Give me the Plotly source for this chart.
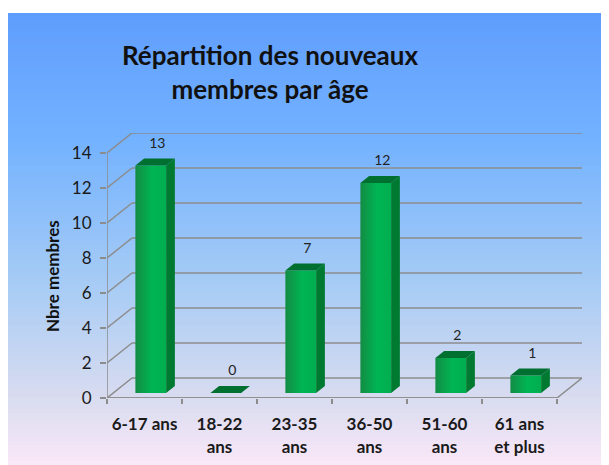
import plotly.graph_objects as go

# data
categories = ["6-17 ans", "18-22<br>ans", "23-35<br>ans", "36-50<br>ans", "51-60<br>ans", "61 ans<br>et plus"]
counts = [13, 0, 7, 12, 2, 1]
y_ticks = [0, 2, 4, 6, 8, 10, 12, 14]
title_text = "Répartition des nouveaux<br>membres par âge"
y_title = "Nbre membres"

OFF = 8  # the page body margin
W, H = 609 - OFF, 465 - OFF
PL, PR, PT, PB = 107 - OFF, 582 - OFF, 133 - OFF, 398 - OFF  # plot area in px
DX = 25 / 75      # depth of the 3d box, in x units
DY = 20 / 17.5    # depth of the 3d box, in y units
BAR_W = 0.41
BAR_D0, BAR_D1 = 0.25, 0.6   # bar sits between these depth fractions
GRID = "#8c8c8c"
FONT = "Lato"

n = len(categories)
x_max = n + DX
y_max = max(y_ticks) + DY


def paper_x(px):
    # px given in page coordinates
    return (px - OFF - PL) / (PR - PL)


def paper_y(py):
    return (PB - (py - OFF)) / (PB - PT)


def lerp_color(py):
    stops = [(13, (95, 157, 253)), (140, (115, 178, 255)), (280, (165, 203, 245)),
             (400, (218, 220, 240)), (465, (250, 232, 248))]
    for (y0, c0), (y1, c1) in zip(stops, stops[1:]):
        if y0 <= py <= y1:
            t = (py - y0) / (y1 - y0)
            return "rgb(%d,%d,%d)" % tuple(round(a + (b - a) * t) for a, b in zip(c0, c1))
    return "rgb(%d,%d,%d)" % stops[-1][1]


fig = go.Figure()

# background gradient
shapes = []
step = 4
for py in range(13, 465, step):
    shapes.append(dict(type="rect", xref="paper", yref="paper", layer="below",
                       x0=paper_x(8), x1=paper_x(612), y0=paper_y(min(py + step + 1, 470)), y1=paper_y(py),
                       fillcolor=lerp_color(py + step / 2), line=dict(width=0)))

# walls, floor and grid lines
gx, gy = [], []
for v in y_ticks:
    gx += [DX, n + DX, None, 0, DX, None]
    gy += [v + DY, v + DY, None, v, v + DY, None]
gx += [0, n, n + DX, None, 0, 0, None]
gy += [0, 0, DY, None, 0, max(y_ticks), None]
fig.add_trace(go.Scatter(x=gx, y=gy, mode="lines", line=dict(color=GRID, width=1.5),
                         hoverinfo="skip", showlegend=False))

# dummy trace so the tick-mark axis gets drawn
fig.add_trace(go.Scatter(x=[0, n], y=[0, 0], xaxis="x2", mode="lines",
                         line=dict(color=GRID, width=1.5), hoverinfo="skip", showlegend=False))

# 3d bars
sx, sy = BAR_D0 * DX, BAR_D0 * DY
ddx, ddy = (BAR_D1 - BAR_D0) * DX, (BAR_D1 - BAR_D0) * DY
for i, v in enumerate(counts):
    x0 = i + 0.5 - BAR_W / 2 + sx
    x1 = x0 + BAR_W
    b = sy
    top = v + sy
    if v > 0:
        fig.add_trace(go.Scatter(
            x=[x0, x1, x1, x0, x0], y=[b, b, top, top, b], mode="lines", fill="toself",
            line=dict(width=0), fillgradient=dict(type="horizontal", colorscale=[
                [0, "#138c44"], [0.55, "#00b553"], [1, "#00ae4f"]]),
            hoverinfo="skip", showlegend=False))
        fig.add_trace(go.Scatter(
            x=[x1, x1 + ddx, x1 + ddx, x1, x1], y=[b, b + ddy, top + ddy, top, b],
            mode="lines", fill="toself", fillcolor="#007a31", line=dict(width=0),
            hoverinfo="skip", showlegend=False))
    fig.add_trace(go.Scatter(
        x=[x0, x1, x1 + ddx, x0 + ddx, x0], y=[top, top, top + ddy, top + ddy, top],
        mode="lines", fill="toself", fillcolor="#007030", line=dict(width=0),
        hoverinfo="skip", showlegend=False))

# value labels
fig.add_trace(go.Scatter(
    x=[i + 0.5 + 0.17 for i in range(n)], y=[v + 1.5 for v in counts],
    text=[str(v) for v in counts], mode="text",
    textfont=dict(family=FONT, size=14, color="#222222"),
    hoverinfo="skip", showlegend=False))

fig.update_layout(
    width=W, height=H,
    margin=dict(l=PL, r=W - PR, t=PT, b=H - PB, pad=0, autoexpand=False),
    paper_bgcolor="white", plot_bgcolor="rgba(0,0,0,0)",
    shapes=shapes,
    showlegend=False,
    xaxis=dict(range=[0, x_max], tickvals=[i + 0.5 for i in range(n)], ticktext=categories,
               ticks="outside", ticklen=11, tickcolor="rgba(0,0,0,0)",
               tickfont=dict(family=FONT, size=17, color="#1a1a1a", weight="bold"),
               showgrid=False, zeroline=False, showline=False, fixedrange=True),
    xaxis2=dict(range=[0, x_max], overlaying="x", anchor="y", side="bottom",
                tickvals=list(range(n + 1)), ticktext=[""] * (n + 1),
                ticks="outside", ticklen=5, tickcolor=GRID, tickwidth=1.5,
                showgrid=False, zeroline=False, showline=False, fixedrange=True),
    yaxis=dict(range=[0, y_max], tickvals=y_ticks, ticks="outside", ticklen=6,
               tickcolor=GRID, tickwidth=1.5, ticklabelstandoff=5,
               tickfont=dict(family=FONT, size=17, color="#1a1a1a"),
               showgrid=False, zeroline=False, showline=False, fixedrange=True),
    annotations=[
        dict(text=title_text, xref="paper", yref="paper", x=paper_x(270), y=paper_y(72),
             xanchor="center", yanchor="middle", showarrow=False,
             font=dict(family=FONT, size=26, color="#111111", weight="bold")),
        dict(text=y_title, xref="paper", yref="paper", x=paper_x(52), y=paper_y(276),
             xanchor="center", yanchor="middle", showarrow=False, textangle=-90,
             font=dict(family=FONT, size=17, color="#111111", weight="bold")),
    ],
)

fig.write_html("out.html")
